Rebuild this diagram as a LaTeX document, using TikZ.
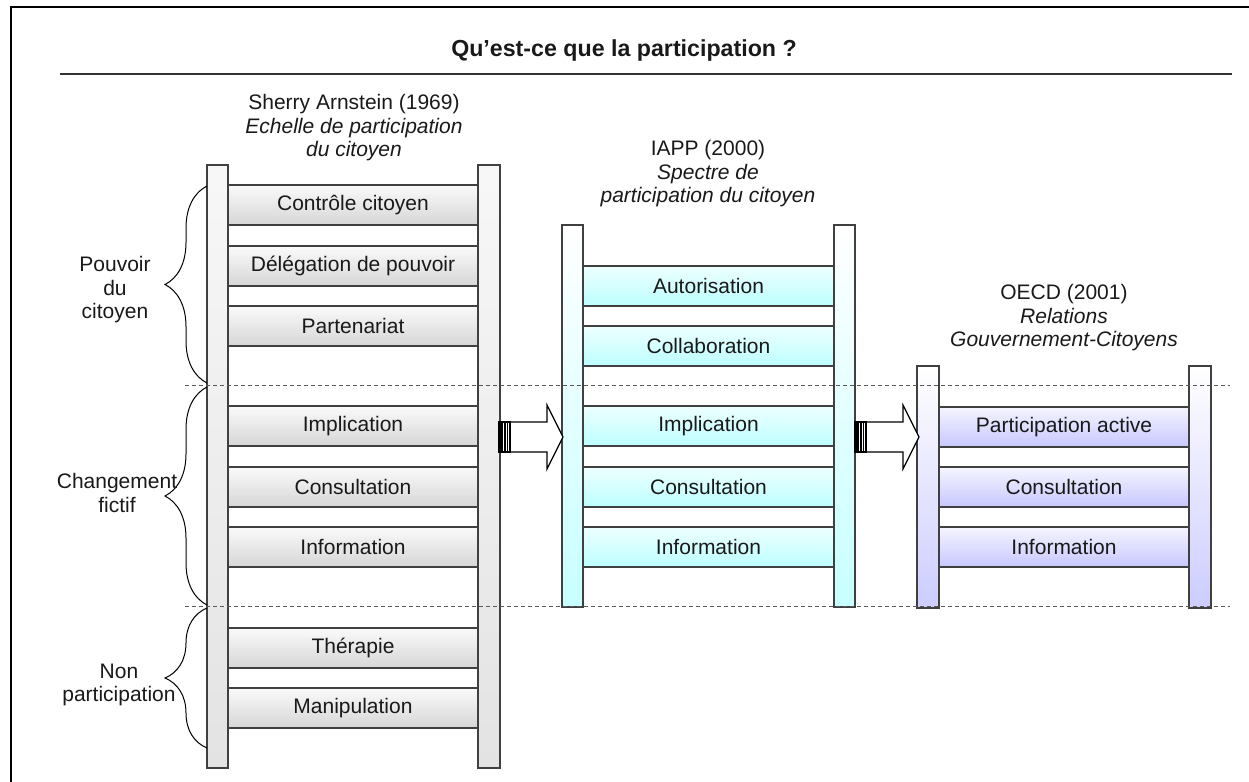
\documentclass[tikz,border=0pt]{standalone}
\usepackage{fontspec}
\setmainfont{Liberation Sans}
\usetikzlibrary{decorations.pathreplacing}

\begin{document}
\begin{tikzpicture}[x=0.5pt,y=-0.5pt,font=\fontsize{10.5}{11.75}\selectfont,text=black!90,
rung/.style={draw=black!75,line width=0.6pt,minimum width=125pt,minimum height=20pt,inner sep=0pt},
rungA/.style={rung,top color=gray!4,bottom color=gray!32},
rungB/.style={rung,top color=cyan!7,bottom color=cyan!26},
rungC/.style={rung,top color=blue!4,bottom color=blue!22},
railA/.style={draw=black!75,line width=0.6pt,top color=gray!6,bottom color=gray!22},
railB/.style={draw=black!75,line width=0.6pt,top color=white,bottom color=cyan!22},
railC/.style={draw=black!75,line width=0.6pt,top color=white,bottom color=blue!20},
head/.style={align=center},
grp/.style={align=center},
brc/.style={draw,line width=0.5pt,decorate,decoration={brace,amplitude=21pt}},
sep/.style={draw=black!65,line width=0.5pt,dash pattern=on 2pt off 1.5pt},
blockarrow/.style={draw,line width=0.6pt,fill=white}]
\useasboundingbox (0,0) rectangle (1249,782);
% frame and title
\draw[line width=1pt] (11,782) -- (11,7) -- (1249,7);
\node[font=\bfseries\fontsize{11.6}{14}\selectfont] (title) at (624,50) {Qu’est-ce que la participation ?};
\draw[line width=0.8pt,black!80] (60,74) -- (1232,74);
% ladder 1
\node[rungA] (A1) at (353,205) {Contrôle citoyen};
\node[rungA] (A2) at (353,266) {Délégation de pouvoir};
\node[rungA] (A3) at (353,326) {Partenariat};
\node[rungA] (A4) at (353,426) {Implication};
\node[rungA] (A5) at (353,487) {Consultation};
\node[rungA] (A6) at (353,547) {Information};
\node[rungA] (A7) at (353,648) {Thérapie};
\node[rungA] (A8) at (353,708) {Manipulation};
\draw[railA] (207,165) rectangle (228,768);
\draw[railA] (478,165) rectangle (500,768);
\node[head] (hA) at (354,128) {Sherry Arnstein (1969)\\\textit{Echelle de participation}\\\textit{du citoyen}};
% ladder 2
\node[rungB,minimum width=125.5pt] (B1) at (708.5,286) {Autorisation};
\node[rungB,minimum width=125.5pt] (B2) at (708.5,346) {Collaboration};
\node[rungB,minimum width=125.5pt] (B3) at (708.5,426) {Implication};
\node[rungB,minimum width=125.5pt] (B4) at (708.5,487) {Consultation};
\node[rungB,minimum width=125.5pt] (B5) at (708.5,547) {Information};
\draw[railB] (562,225) rectangle (583,607);
\draw[railB] (834,225) rectangle (855,607);
\node[head] (hB) at (708,174) {IAPP (2000)\\\textit{Spectre de}\\\textit{participation du citoyen}};
% ladder 3
\node[rungC] (C1) at (1064,427) {Participation active};
\node[rungC] (C2) at (1064,487) {Consultation};
\node[rungC] (C3) at (1064,547) {Information};
\draw[railC] (917,366) rectangle (939,608);
\draw[railC] (1189,366) rectangle (1211,608);
\node[head] (hC) at (1064,318) {OECD (2001)\\\textit{Relations}\\\textit{Gouvernement-Citoyens}};
% arrows between ladders
\foreach \x in {499,855} {
  \draw[blockarrow] (\x+11,422) -- (\x+48,422) -- (\x+48,405) -- (\x+64,437) -- (\x+48,469) -- (\x+48,452) -- (\x+11,452) -- cycle;
  \draw[line width=0.6pt] (\x,422) rectangle (\x+11,452);
  \fill (\x,422) rectangle (\x+3.5,452);
  \draw[line width=0.6pt] (\x+6,422) -- (\x+6,452);
  \draw[line width=0.6pt] (\x+8.5,422) -- (\x+8.5,452);
}
% groups
\draw[brc] (207,383) -- (207,186);
\draw[brc] (207,605) -- (207,387);
\draw[brc] (207,748) -- (207,608);
\node[grp] (gPower) at (115,290) {Pouvoir\\du\\citoyen};
\node[grp] (gFake) at (117,493) {Changement\\fictif};
\node[grp] (gNone) at (119,685) {Non\\participation};
\draw[sep] (185,385) -- (1230,385);
\draw[sep] (185,606) -- (1230,606);
\end{tikzpicture}
\end{document}
